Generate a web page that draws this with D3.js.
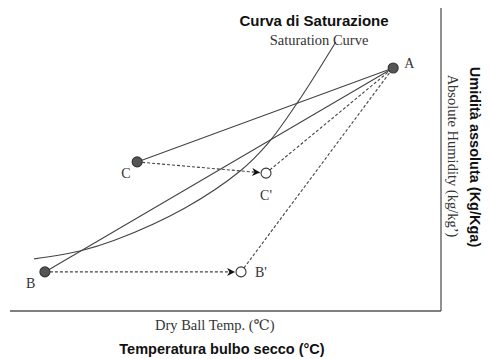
<!DOCTYPE html>
<html>
<head>
<meta charset="utf-8">
<script src="https://cdn.jsdelivr.net/npm/d3@7"></script>
<style>
  body { margin: 0; background: #fff; }
  .serif { font-family: "Liberation Serif", "DejaVu Serif", serif; fill: #333; }
  .sans { font-family: "Liberation Sans", Arial, sans-serif; font-weight: bold; fill: #111; }
</style>
</head>
<body>
<div id="chart"></div>
<script>
// Process states (temperature, absolute humidity), arbitrary units 0-100
const stateNames = ["A", "B", "C", "B'", "C'"];
const stateTemp = [88.9, 8.1, 29.5, 53.6, 59.4];
const stateHum = [80.2, 12.9, 49.2, 12.9, 45.5];
const stateFilled = [true, true, true, false, false];

// Saturation curve
const satTemp = [5.6, 16.2, 24.4, 40.6, 53.4, 59.9, 66.8, 75.6];
const satHum = [17.2, 19.8, 23.4, 34.0, 46.2, 55.4, 69.0, 88.8];

// Connections: [from, to, style]
const links = [
    ["C", "A", "solid"],
    ["B", "A", "solid"],
    ["C'", "A", "dashed"],
    ["B'", "A", "dashed"],
    ["C", "C'", "arrow"],
    ["B", "B'", "arrow"]
];

const width = 490;
const height = 359;
const r = 5;

const x = d3.scaleLinear().domain([0, 100]).range([10, 441]);
const y = d3.scaleLinear().domain([0, 100]).range([311, 8]);

const states = stateNames.map((n, i) => ({
    name: n, t: stateTemp[i], h: stateHum[i], filled: stateFilled[i]
}));
const byName = Object.fromEntries(states.map(d => [d.name, d]));

const svg = d3.select("#chart").append("svg")
    .attr("width", width)
    .attr("height", height);

svg.append("defs").append("marker")
    .attr("id", "arrow")
    .attr("viewBox", "0 0 10 10")
    .attr("refX", 10).attr("refY", 5)
    .attr("markerWidth", 12).attr("markerHeight", 8)
    .attr("markerUnits", "userSpaceOnUse")
    .attr("orient", "auto")
    .append("path")
    .attr("d", "M0,0 L10,5 L0,10 L3,5 Z")
    .attr("fill", "#111");

// Axis frame: bottom and right
svg.append("line")
    .attr("x1", x(0)).attr("x2", x(100))
    .attr("y1", y(0)).attr("y2", y(0))
    .attr("stroke", "#555").attr("stroke-width", 1.3);
svg.append("line")
    .attr("x1", x(100)).attr("x2", x(100))
    .attr("y1", y(0)).attr("y2", y(100))
    .attr("stroke", "#555").attr("stroke-width", 1.3);

// Saturation curve
const sat = satTemp.map((t, i) => [t, satHum[i]]);
svg.append("path")
    .datum(sat)
    .attr("fill", "none")
    .attr("stroke", "#444")
    .attr("stroke-width", 1.1)
    .attr("d", d3.line().x(d => x(d[0])).y(d => y(d[1])).curve(d3.curveCatmullRom));

// Links
links.forEach(([a, b, style]) => {
    const p = byName[a], q = byName[b];
    let x1 = x(p.t), y1 = y(p.h), x2 = x(q.t), y2 = y(q.h);
    if (style === "arrow") {
        const len = Math.hypot(x2 - x1, y2 - y1);
        x2 -= (x2 - x1) / len * (r + 1);
        y2 -= (y2 - y1) / len * (r + 1);
    }
    const line = svg.append("line")
        .attr("x1", x1).attr("y1", y1)
        .attr("x2", x2).attr("y2", y2)
        .attr("stroke", "#444")
        .attr("stroke-width", 1.1);
    if (style !== "solid") line.attr("stroke-dasharray", "3,2");
    if (style === "arrow") line.attr("marker-end", "url(#arrow)");
});

// State points
svg.append("g")
    .selectAll("circle")
    .data(states)
    .join("circle")
        .attr("cx", d => x(d.t))
        .attr("cy", d => y(d.h))
        .attr("r", r)
        .attr("fill", d => d.filled ? "#555" : "#fff")
        .attr("stroke", "#333")
        .attr("stroke-width", 1.1);

// Point labels
const labelOffset = { "A": [11, 0], "B": [-19, 16], "C": [-16, 16], "B'": [14, 5], "C'": [0, 27] };
svg.append("g")
    .selectAll("text")
    .data(states)
    .join("text")
        .attr("class", "serif")
        .attr("font-size", 14)
        .attr("x", d => x(d.t) + labelOffset[d.name][0])
        .attr("y", d => y(d.h) + labelOffset[d.name][1])
        .attr("text-anchor", d => d.name === "C'" ? "middle" : "start")
        .text(d => d.name);

// Titles
svg.append("text").attr("class", "sans").attr("font-size", 15)
    .attr("x", 314).attr("y", 26).attr("text-anchor", "middle")
    .text("Curva di Saturazione");
svg.append("text").attr("class", "serif").attr("font-size", 14.5)
    .attr("x", 319).attr("y", 45).attr("text-anchor", "middle")
    .text("Saturation Curve");

svg.append("text").attr("class", "serif").attr("font-size", 14.5)
    .attr("x", 155).attr("y", 330)
    .text("Dry Ball Temp. (℃)");
svg.append("text").attr("class", "sans").attr("font-size", 14.5)
    .attr("x", 222).attr("y", 354).attr("text-anchor", "middle")
    .text("Temperatura bulbo secco (°C)");

svg.append("text").attr("class", "serif").attr("font-size", 14.5)
    .attr("transform", "translate(448,156) rotate(90)")
    .attr("text-anchor", "middle")
    .text("Absolute Humidity (kg/kg’)");
svg.append("text").attr("class", "sans").attr("font-size", 14.5)
    .attr("transform", "translate(470,157) rotate(90)")
    .attr("text-anchor", "middle")
    .text("Umidità assoluta (Kg/Kga)");
</script>
</body>
</html>
